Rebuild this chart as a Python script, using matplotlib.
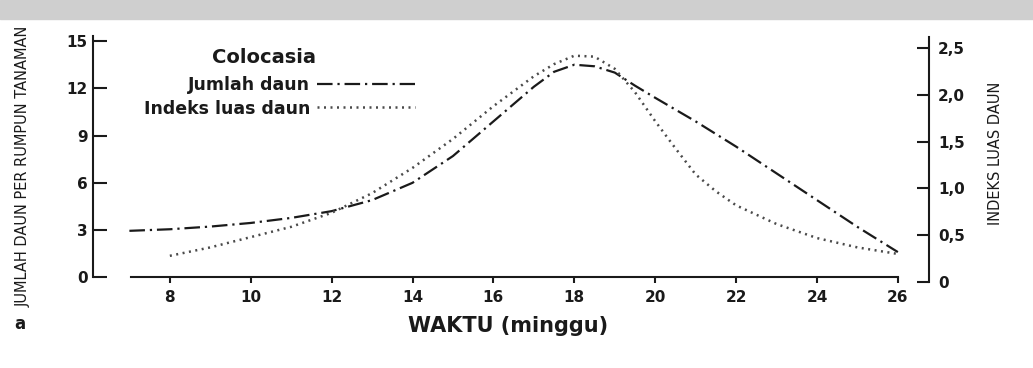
import matplotlib
matplotlib.use("Agg")
import matplotlib.pyplot as plt
from matplotlib.patches import Rectangle

# values (Colocasia)
minggu_daun = [7, 8, 9, 10, 11, 12, 13, 14, 15, 16, 17, 17.5, 18, 18.5, 19, 19.5, 20, 21, 22, 23, 24, 25, 26]
jumlah_daun = [2.95, 3.05, 3.22, 3.45, 3.77, 4.2, 4.9, 6.0, 7.7, 9.9, 12.1, 13.05, 13.5, 13.4, 13.0, 12.17,
               11.4, 9.9, 8.3, 6.6, 4.9, 3.2, 1.6]

minggu_ild = [8, 9, 10, 11, 12, 13, 14, 15, 16, 17, 17.5, 18, 18.5, 19, 19.5, 20, 20.5, 21, 21.5, 22, 23, 24, 25, 26]
indeks_luas_daun = [0.28, 0.37, 0.48, 0.59, 0.74, 0.95, 1.22, 1.53, 1.88, 2.2, 2.33, 2.42, 2.41, 2.28, 2.03, 1.72,
                    1.43, 1.15, 0.97, 0.82, 0.62, 0.47, 0.37, 0.30]

x_ticks = [8, 10, 12, 14, 16, 18, 20, 22, 24, 26]
kiri_ticks = [0, 3, 6, 9, 12, 15]
kanan_ticks = [0, 0.5, 1.0, 1.5, 2.0, 2.5]
kanan_labels = ["0", "0,5", "1,0", "1,5", "2,0", "2,5"]

ink = "#1a1a1a"
plt.rcParams["text.color"] = ink
plt.rcParams["axes.labelcolor"] = ink
plt.rcParams["xtick.color"] = ink
plt.rcParams["ytick.color"] = ink

W, H = 1033, 368
fig = plt.figure(figsize=(W / 100, H / 100), dpi=100)

# grey strip of the scan at the top
fig.patches.append(Rectangle((0, 1 - 19 / H), 1, 19 / H, transform=fig.transFigure,
                             color="#cfcfcf", zorder=0))

ax = fig.add_axes([93 / W, 1 - 282 / H, (929 - 93) / W, 245 / H])
ax2 = ax.twinx()

l1, = ax.plot(minggu_daun, jumlah_daun, color=ink, lw=1.6, dashes=(7, 2.2, 1, 2.2),
              label="Jumlah daun")
l2, = ax2.plot(minggu_ild, indeks_luas_daun, color="#4a4a4a", lw=1.8, dashes=(0.8, 1.8),
               label="Indeks luas daun")

ax.set_xlim(6.1, 26.77)
ax.set_ylim(-0.30, 15.26)
ax2.set_ylim(0, 2.62)

for s in ["top", "right"]:
    ax.spines[s].set_visible(False)
for s in ["top", "left", "bottom"]:
    ax2.spines[s].set_visible(False)
for s in ax.spines.values():
    s.set_linewidth(1.5)
    s.set_color(ink)
ax2.spines["right"].set_linewidth(1.5)
ax2.spines["right"].set_color(ink)

ax.spines["left"].set_bounds(0, 15.3)
ax.spines["bottom"].set_position(("data", 0))
ax.spines["bottom"].set_bounds(7.05, 26)

ax.set_xticks(x_ticks, labels=[str(v) for v in x_ticks], fontweight="bold")
ax.set_yticks(kiri_ticks, labels=[str(v) for v in kiri_ticks], fontweight="bold")
ax2.set_yticks(kanan_ticks, labels=kanan_labels, fontweight="bold")

ax.tick_params(axis="y", direction="in", length=10, width=1.5, pad=4, labelsize=11)
ax.tick_params(axis="x", direction="out", length=4.5, width=1.5, pad=5, labelsize=11)
ax2.tick_params(axis="y", direction="in", length=9, width=1.5, pad=6.5, labelsize=11)

ax.set_xlabel("WAKTU (minggu)", fontsize=15, fontweight="bold")
ax.xaxis.set_label_coords(0.497, -0.18)
ax.xaxis.label.set_va("center")

ax.set_ylabel("JUMLAH DAUN PER RUMPUN TANAMAN", fontsize=10.5)
ax.yaxis.set_label_coords(-0.083, 0.473)
ax.yaxis.label.set_va("center")

ax2.set_ylabel("INDEKS LUAS DAUN", fontsize=10.5, rotation=90)
ax2.yaxis.set_label_coords(1.079, 0.527)
ax2.yaxis.label.set_va("center")

ax2.text(0.205, 0.918, "Colocasia", transform=ax.transAxes, ha="center", va="center",
         fontsize=14, fontweight="bold")

ax2.legend([l1, l2], [l1.get_label(), l2.get_label()], loc="upper right",
           bbox_to_anchor=(0.395, 0.875), frameon=False, markerfirst=False, borderpad=0,
           handlelength=5.6, handletextpad=0.4, labelspacing=0.3,
           prop={"size": 12.5, "weight": "bold"})

fig.text(20 / W, 1 - 324 / H, "a", fontsize=12, fontweight="bold", ha="center", va="center")

fig.savefig("out.png", dpi=100)
